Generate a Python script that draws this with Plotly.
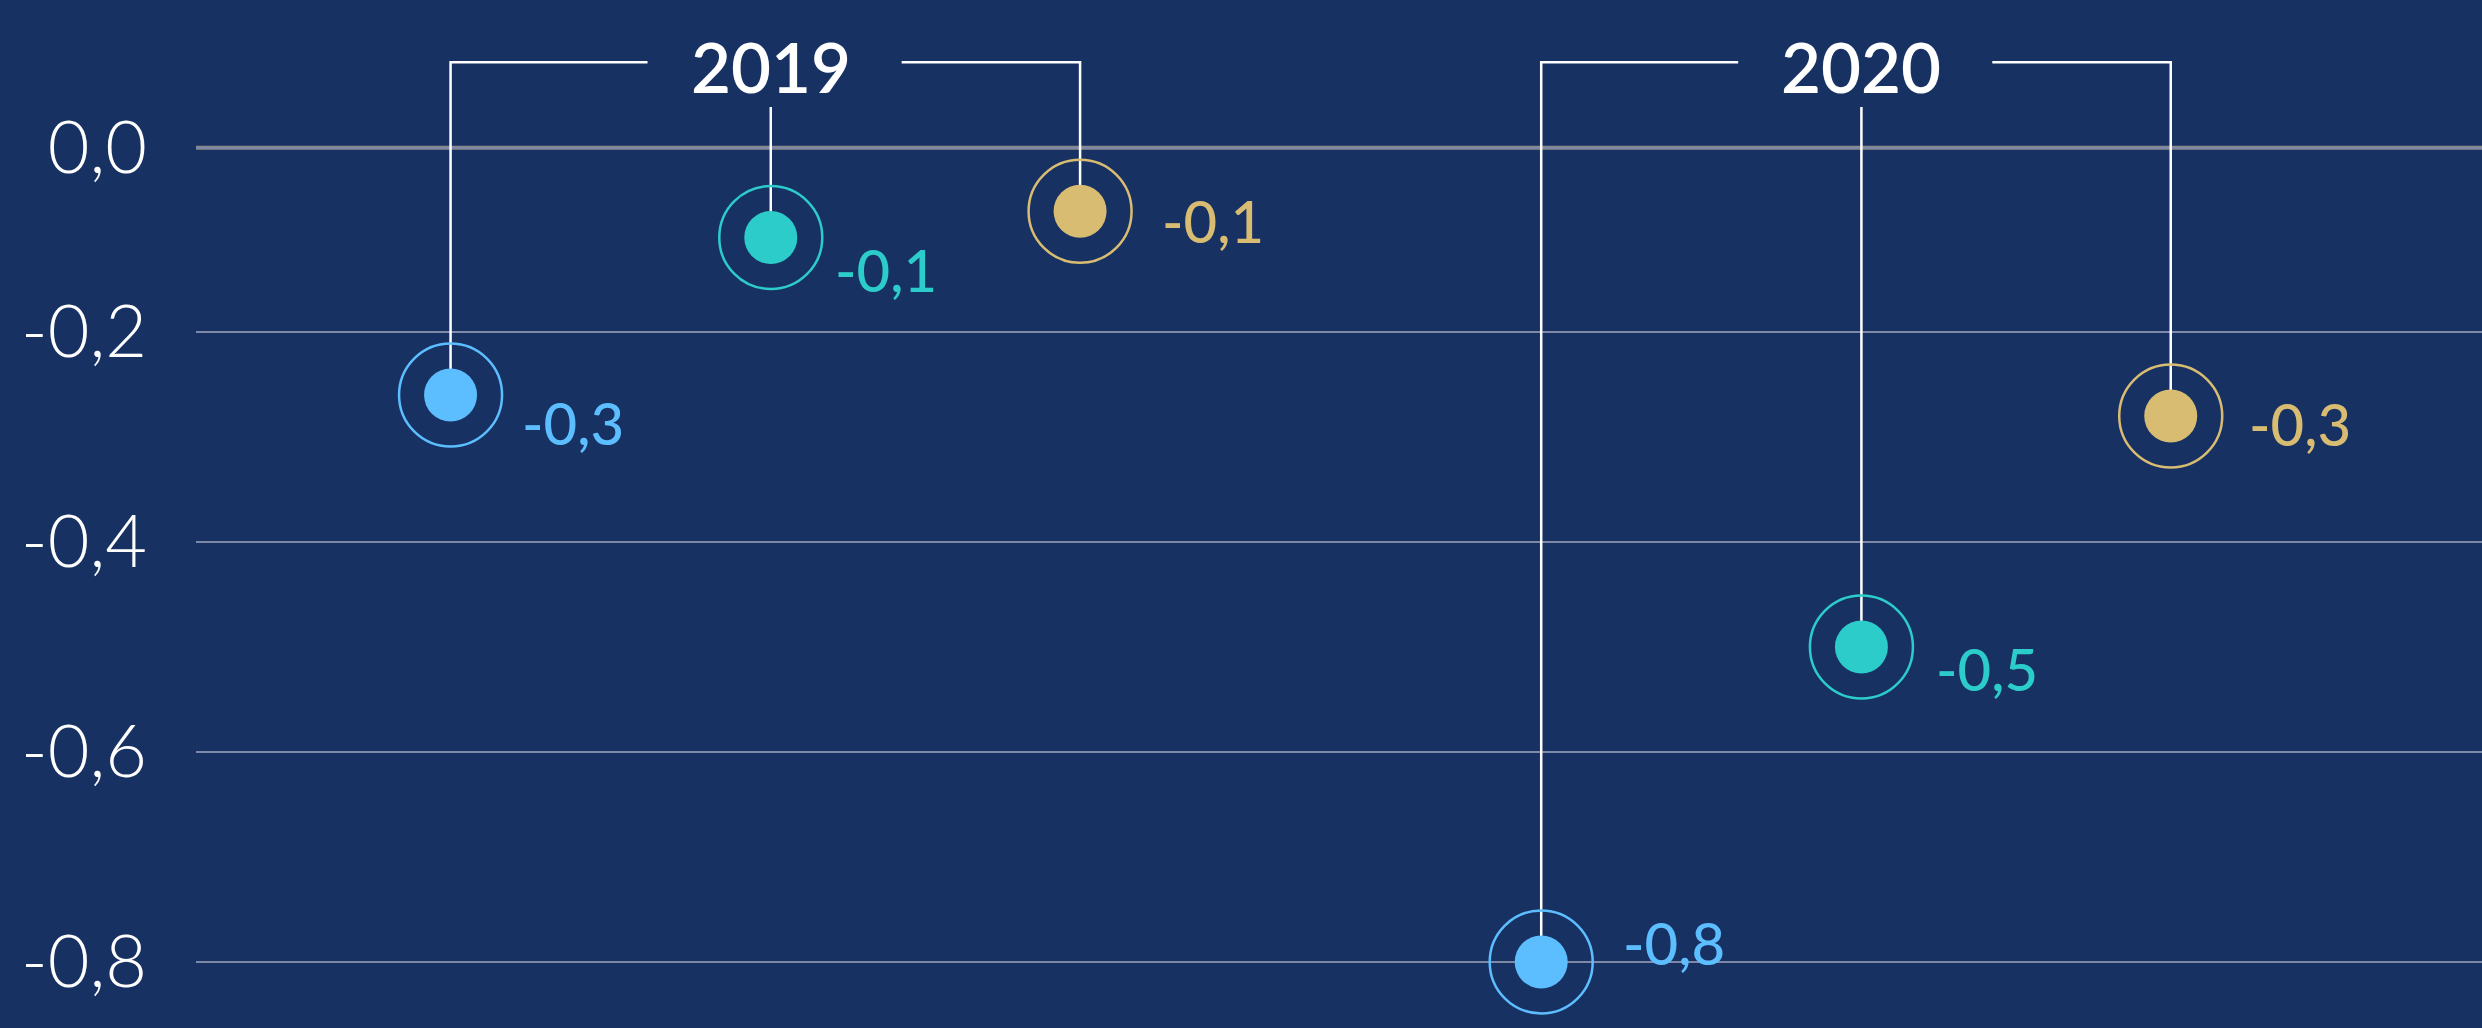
import plotly.graph_objects as go

# ---------------- data ----------------
years = ["2019", "2020"]
series_names = ["Serie 1", "Serie 2", "Serie 3"]
values_blue = [-0.26, -0.80]
values_teal = [-0.11, -0.50]
values_gold = [-0.085, -0.28]
tick_values = [-0.0245, -0.2, -0.4, -0.6, -0.8]
tick_labels = ["0,0", "-0,2", "-0,4", "-0,6", "-0,8"]

# ---------------- style ----------------
BG = "#183163"
COLORS = ["#5CBEFE", "#2CCCCA", "#D8BC72"]
SERIES_OFFSET = [-0.2886, 0.005, 0.2886]     # dodge within a year group
BRACKET_Y = 0.057                            # height of the bracket lines
TEAL_TOP = 0.0143                            # top of the centre connector
YEAR_Y = 0.0527
GAP_LEFT, GAP_RIGHT = 0.113, 0.120           # gap around the year label
# per-label pixel nudges (dx, dy) [series][year]
LABEL_DX = [[69, 80], [62, 73], [80, 76]]
LABEL_DY = [[-28, 19], [-32, -22], [-9, -8]]
FONT = "Lato, 'Open Sans', sans-serif"

series_vals = [values_blue, values_teal, values_gold]

fig = go.Figure()

# connector / bracket lines
lx, ly = [], []
for g in range(len(years)):
    xb = g + SERIES_OFFSET[0]
    xt = g + SERIES_OFFSET[1]
    xg = g + SERIES_OFFSET[2]
    # left bracket: blue point -> up -> right until gap
    lx += [xb, xb, xt - GAP_LEFT, None]
    ly += [values_blue[g], BRACKET_Y, BRACKET_Y, None]
    # right bracket
    lx += [xt + GAP_RIGHT, xg, xg, None]
    ly += [BRACKET_Y, BRACKET_Y, values_gold[g], None]
    # centre stem
    lx += [xt, xt, None]
    ly += [TEAL_TOP, values_teal[g], None]
fig.add_trace(go.Scatter(x=lx, y=ly, mode="lines",
                         line=dict(color="white", width=2.5),
                         hoverinfo="skip", showlegend=False, cliponaxis=False))

for s, vals in enumerate(series_vals):
    xs = [g + SERIES_OFFSET[s] for g in range(len(years))]
    fig.add_trace(go.Scatter(x=xs, y=vals, mode="markers", name=series_names[s],
                             marker=dict(symbol="circle-open", size=103, color=COLORS[s],
                                         line=dict(width=2.5, color=COLORS[s])),
                             showlegend=False, hoverinfo="skip", cliponaxis=False))
    fig.add_trace(go.Scatter(x=xs, y=vals, mode="markers", name=series_names[s],
                             marker=dict(symbol="circle", size=53, color=COLORS[s],
                                         line=dict(width=0)),
                             showlegend=False, cliponaxis=False))
    for g, v in enumerate(vals):
        fig.add_annotation(x=xs[g], y=v, xref="x", yref="y",
                           text=f"{v:.1f}".replace(".", ","),
                           showarrow=False, xanchor="left", yanchor="middle",
                           xshift=LABEL_DX[s][g], yshift=LABEL_DY[s][g],
                           font=dict(family=FONT, size=58, color=COLORS[s], weight=500))

for g, yr in enumerate(years):
    fig.add_annotation(x=g + SERIES_OFFSET[1], y=YEAR_Y, xref="x", yref="y",
                       text=yr, showarrow=False, xanchor="center", yanchor="middle",
                       font=dict(family=FONT, size=69, color="white", weight=600))

# zero line
fig.add_shape(type="line", xref="paper", x0=0, x1=1, yref="y",
              y0=tick_values[0], y1=tick_values[0],
              line=dict(color="#888888", width=4), layer="below")

fig.update_layout(
    width=2482, height=1028,
    margin=dict(l=196, r=0, t=0, b=0),
    paper_bgcolor=BG, plot_bgcolor=BG,
    xaxis=dict(range=[-0.522, 1.574], visible=False, showgrid=False, zeroline=False),
    yaxis=dict(range=[-0.8629, 0.1162], tickvals=tick_values, ticktext=tick_labels,
               showgrid=True, gridcolor="#7d89a6", gridwidth=2, zeroline=False,
               showline=False, ticks="", ticklabelstandoff=48,
               tickfont=dict(family=FONT, size=72, color="white", weight=300)),
    showlegend=False,
)

fig.write_html("out.html", config={"displayModeBar": False},
               post_script="document.body.style.margin='0';")
